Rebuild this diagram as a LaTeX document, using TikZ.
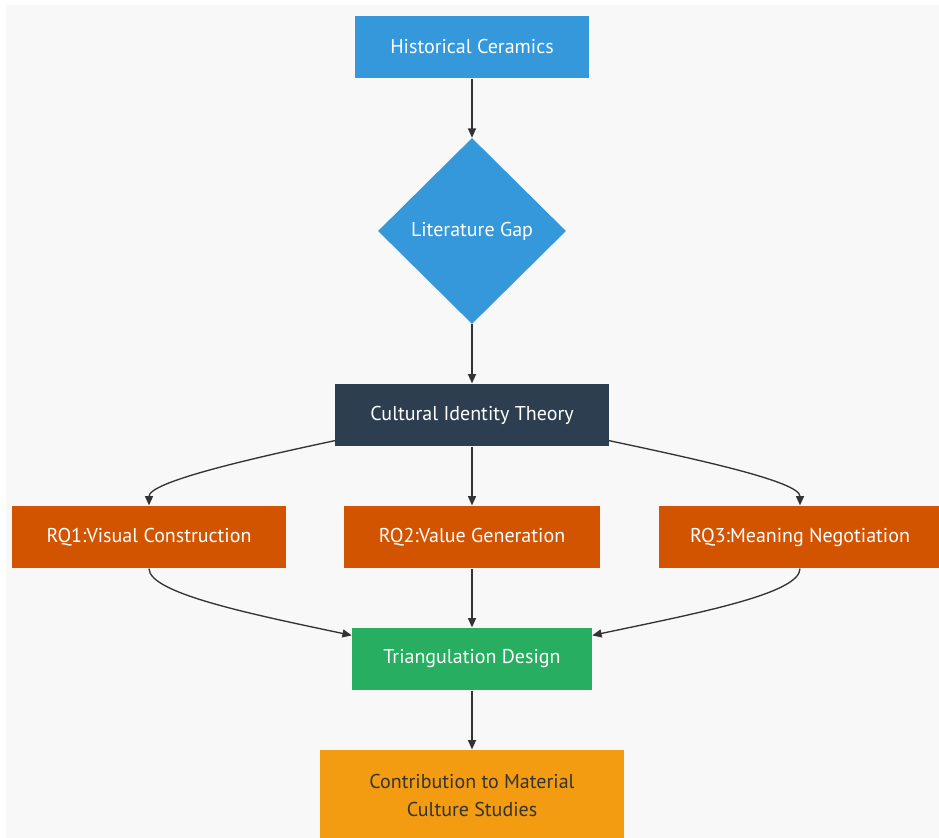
\documentclass[tikz,border=0pt]{standalone}
\usepackage{fontspec}
\setmainfont{PT Sans}
\usepackage{tikz}
\usetikzlibrary{shapes.geometric,arrows.meta,positioning}
\definecolor{bleu}{HTML}{3498DB}
\definecolor{nuit}{HTML}{2C3E50}
\definecolor{rouille}{HTML}{D35400}
\definecolor{vert}{HTML}{27AE60}
\definecolor{ambre}{HTML}{F39C12}
\definecolor{fond}{HTML}{F8F8F8}
\definecolor{trait}{HTML}{333333}
\tikzset{
  boite/.style={rectangle,minimum height=47pt,inner sep=0pt,text=white,font=\fontsize{15}{21}\selectfont},
  fleche/.style={draw=trait,line width=1pt,-{Triangle[length=7pt,width=6pt]}}
}
\begin{document}
\begin{tikzpicture}[x=0.75pt,y=-0.75pt]
\useasboundingbox(0,0)rectangle(939,838);
\fill[white](0,0)rectangle(939,838);
\fill[fond](6,5)rectangle(939,838);
% noeuds
\node[boite,fill=bleu,minimum width=175pt](hist)at(472,47){Historical Ceramics};
\node[diamond,fill=bleu,text=white,inner sep=0pt,minimum width=141pt,minimum height=139.5pt,font=\fontsize{15}{21}\selectfont](gap)at(472,231){Literature Gap};
\node[boite,fill=nuit,minimum width=205pt](cit)at(472,415){Cultural Identity Theory};
\node[boite,fill=rouille,minimum width=205.5pt](rq1)at(149,537){RQ1:Visual Construction};
\node[boite,fill=rouille,minimum width=192pt](rq2)at(472,537){RQ2:Value Generation};
\node[boite,fill=rouille,minimum width=212pt](rq3)at(800,537){RQ3:Meaning Negotiation};
\node[boite,fill=vert,minimum width=180pt](tri)at(472,659){Triangulation Design};
\node[boite,fill=ambre,text=trait,minimum width=228pt,minimum height=68pt,align=center](contrib)at(472,795){Contribution to Material\\Culture Studies};
% liens
\draw[fleche](hist)--(gap);
\draw[fleche](gap)--(cit);
\draw[fleche]([yshift=4.5pt]cit.south west)to[out=192,in=90,out looseness=1.2,in looseness=0.3](rq1.north);
\draw[fleche](cit)--(rq2);
\draw[fleche]([yshift=4.5pt]cit.south east)to[out=-12,in=90,out looseness=1.2,in looseness=0.3](rq3.north);
\draw[fleche](rq1.south)to[out=-90,in=168,out looseness=0.3,in looseness=1.2]([yshift=-6pt]tri.north west);
\draw[fleche](rq2)--(tri);
\draw[fleche](rq3.south)to[out=-90,in=12,out looseness=0.3,in looseness=1.2]([yshift=-6pt]tri.north east);
\draw[fleche](tri)--(contrib);
\end{tikzpicture}
\end{document}
